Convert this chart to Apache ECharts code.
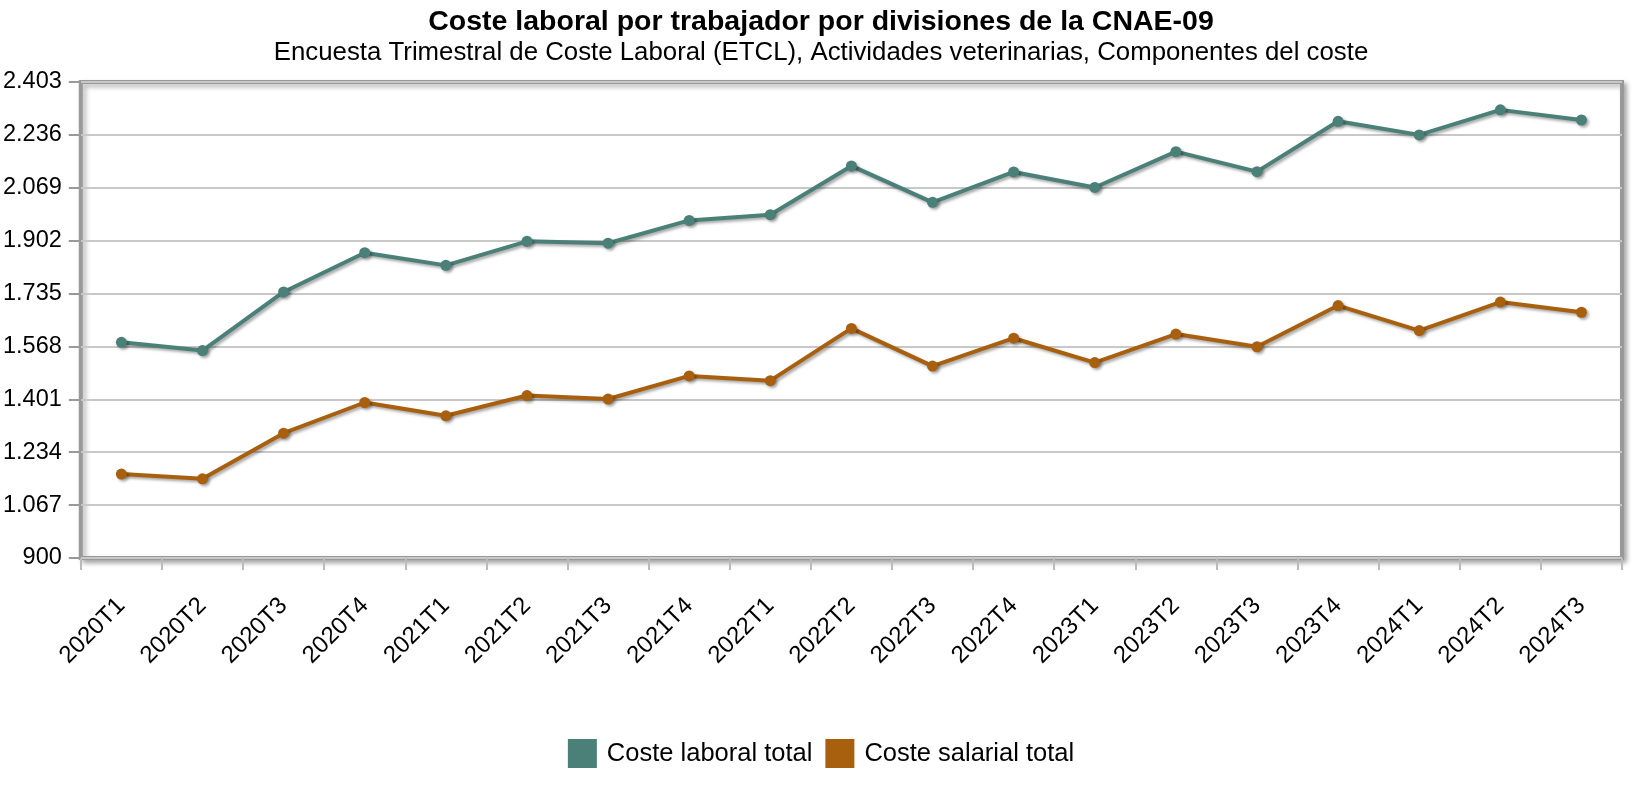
<!DOCTYPE html>
<html>
<head>
<meta charset="utf-8">
<script src="https://cdn.jsdelivr.net/npm/echarts@6/dist/echarts.min.js"></script>
<style>
html,body{margin:0;padding:0;background:#fff;}
#chart{width:1642px;height:798px;}
</style>
</head>
<body>
<div id="chart"></div>
<script>
const categories = ["2020T1","2020T2","2020T3","2020T4","2021T1","2021T2","2021T3","2021T4","2022T1","2022T2","2022T3","2022T4","2023T1","2023T2","2023T3","2023T4","2024T1","2024T2","2024T3"];
const costeLaboralTotal = [1581,1555,1740,1864,1824,1900,1894,1966,1984,2138,2023,2119,2070,2183,2120,2279,2236,2315,2283];
const costeSalarialTotal = [1165,1150,1294,1391,1349,1413,1402,1475,1460,1625,1506,1594,1517,1607,1567,1697,1618,1708,1676];
const yTicks = [900,1067,1234,1401,1568,1735,1902,2069,2236,2403];
const seriesNames = ["Coste laboral total","Coste salarial total"];
const titleText = "Coste laboral por trabajador por divisiones de la CNAE-09";
const subtitleText = "Encuesta Trimestral de Coste Laboral (ETCL), Actividades veterinarias, Componentes del coste";

const FONT = "'Liberation Sans', Arial, Helvetica, sans-serif";
const colors = ["#4a8078", "#a8600f"];

function fmt(v){
  return String(Math.round(v)).replace(/\B(?=(\d{3})+(?!\d))/g, ".");
}

const chart = echarts.init(document.getElementById('chart'), null, {renderer:'canvas'});
const lineShadow = {shadowColor:'rgba(0,0,0,0.35)', shadowBlur:3, shadowOffsetX:2, shadowOffsetY:2};

chart.setOption({
  animation:false,
  backgroundColor:'#fff',
  color: colors,
  title:[
    {text:titleText, left:'center', top:3,
     textStyle:{fontFamily:FONT, fontSize:28.5, fontWeight:'bold', color:'#000'}},
    {text:subtitleText, left:'center', top:35,
     textStyle:{fontFamily:FONT, fontSize:25.8, fontWeight:'normal', color:'#000'}}
  ],
  legend:{
    bottom:25, left:'center',
    icon:'rect', itemWidth:29, itemHeight:29, itemGap:13,
    textStyle:{fontFamily:FONT, fontSize:25.5, color:'#000', padding:[0,0,0,5]},
    data: seriesNames
  },
  grid:{
    left:77, right:20, top:82, bottom:240,
    show:true, backgroundColor:'#fff',
    borderColor:'#999', borderWidth:4,
    shadowColor:'rgba(0,0,0,0.3)', shadowBlur:5, shadowOffsetX:3, shadowOffsetY:3
  },
  xAxis:{
    type:'category', data:categories, boundaryGap:true,
    axisLine:{show:false},
    axisTick:{show:true, alignWithLabel:false, length:12, inside:false, lineStyle:{color:'#bbb', width:2}},
    axisLabel:{rotate:45, margin:44, fontFamily:FONT, fontSize:24, color:'#000', interval:0},
    splitLine:{show:false}
  },
  yAxis:{
    type:'value', min:yTicks[0], max:yTicks[yTicks.length-1],
    axisLine:{show:false},
    axisTick:{show:true, length:12, customValues:yTicks, lineStyle:{color:'#999', width:2}},
    axisLabel:{customValues:yTicks, fontFamily:FONT, fontSize:23.5, color:'#000', margin:19, formatter:fmt},
    splitLine:{show:true, lineStyle:{color:'#c8c8c8', width:2}}
  },
  series:[
    {name:seriesNames[0], type:'line', data:costeLaboralTotal, symbol:'circle', symbolSize:11,
     lineStyle:Object.assign({width:4, color:colors[0]}, lineShadow),
     itemStyle:Object.assign({color:colors[0]}, lineShadow)},
    {name:seriesNames[1], type:'line', data:costeSalarialTotal, symbol:'circle', symbolSize:11,
     lineStyle:Object.assign({width:4, color:colors[1]}, lineShadow),
     itemStyle:Object.assign({color:colors[1]}, lineShadow)}
  ]
});
</script>
</body>
</html>
